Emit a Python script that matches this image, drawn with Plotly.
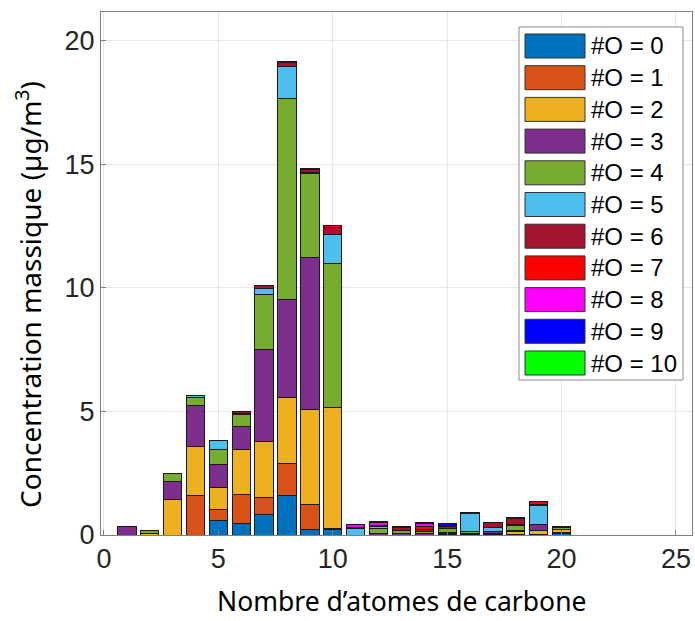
import plotly.graph_objects as go

carbons = list(range(1, 21))
series_names = ["#O = 0", "#O = 1", "#O = 2", "#O = 3", "#O = 4", "#O = 5",
                "#O = 6", "#O = 7", "#O = 8", "#O = 9", "#O = 10"]
colors = ["#0072BD", "#D95319", "#EDB120", "#7E2F8E", "#77AC30", "#4DBEEE",
          "#A2142F", "#FF0000", "#FF00FF", "#0000FF", "#00FF00"]

#            C1    C2    C3    C4    C5    C6    C7    C8    C9    C10   C11   C12   C13   C14   C15   C16   C17   C18   C19   C20
o0  = [0.00, 0.00, 0.00, 0.00, 0.60, 0.46, 0.84, 1.61, 0.23, 0.23, 0.00, 0.00, 0.00, 0.00, 0.03, 0.00, 0.03, 0.04, 0.04, 0.08]
o1  = [0.00, 0.00, 0.00, 1.60, 0.42, 1.19, 0.67, 1.29, 1.01, 0.03, 0.00, 0.00, 0.00, 0.00, 0.04, 0.04, 0.03, 0.00, 0.00, 0.03]
o2  = [0.00, 0.08, 1.44, 2.00, 0.89, 1.83, 2.27, 2.66, 3.85, 4.92, 0.00, 0.00, 0.00, 0.00, 0.00, 0.00, 0.00, 0.10, 0.14, 0.12]
o3  = [0.35, 0.00, 0.73, 1.63, 0.95, 0.93, 3.74, 3.98, 6.14, 0.00, 0.00, 0.08, 0.05, 0.05, 0.05, 0.04, 0.08, 0.05, 0.25, 0.00]
o4  = [0.00, 0.12, 0.33, 0.33, 0.62, 0.48, 2.22, 8.14, 3.40, 5.81, 0.00, 0.17, 0.12, 0.08, 0.15, 0.06, 0.00, 0.20, 0.00, 0.07]
o5  = [0.00, 0.00, 0.00, 0.10, 0.35, 0.03, 0.25, 1.27, 0.03, 1.19, 0.28, 0.09, 0.03, 0.00, 0.00, 0.73, 0.16, 0.05, 0.77, 0.00]
o6  = [0.00, 0.00, 0.00, 0.00, 0.00, 0.06, 0.09, 0.18, 0.12, 0.25, 0.03, 0.04, 0.12, 0.10, 0.08, 0.04, 0.20, 0.22, 0.03, 0.03]
o7  = [0.00, 0.00, 0.00, 0.00, 0.00, 0.00, 0.00, 0.05, 0.04, 0.08, 0.00, 0.00, 0.03, 0.12, 0.00, 0.00, 0.00, 0.04, 0.14, 0.00]
o8  = [0.00, 0.00, 0.00, 0.00, 0.00, 0.00, 0.00, 0.00, 0.00, 0.00, 0.12, 0.12, 0.00, 0.10, 0.00, 0.00, 0.00, 0.00, 0.00, 0.00]
o9  = [0.00, 0.00, 0.00, 0.00, 0.00, 0.00, 0.00, 0.00, 0.00, 0.00, 0.00, 0.04, 0.00, 0.04, 0.12, 0.00, 0.00, 0.00, 0.00, 0.00]
o10 = [0.00] * 20
series = [o0, o1, o2, o3, o4, o5, o6, o7, o8, o9, o10]

x_ticks = [0, 5, 10, 15, 20, 25]
y_ticks = [0, 5, 10, 15, 20]
x_title = "Nombre d’atomes de carbone"
y_title = "Concentration massique (µg/m<sup>3</sup>)"

fig = go.Figure()
for name, col, vals in zip(series_names, colors, series):
    fig.add_trace(go.Bar(
        x=carbons, y=vals, name=name, width=0.8,
        marker=dict(color=col, line=dict(color="#1a1a1a", width=1)),
        showlegend=False,
    ))

# Plot-area geometry in pixels (for custom MATLAB-like legend)
W, H = 695, 621
L, R, T, B = 101, 3, 12, 86
pw, ph = W - L - R, H - T - B

def px(xp):
    return (xp - L) / pw

def py(yp):
    return (H - B - yp) / ph

shapes = []
annotations = []
# legend box
shapes.append(dict(type="rect", xref="paper", yref="paper",
                   x0=px(519), x1=px(683), y0=py(380), y1=py(27),
                   fillcolor="white", line=dict(color="#8c8c8c", width=1), layer="above"))
for i, (name, col) in enumerate(zip(series_names, colors)):
    cy = 46 + 31.7 * i
    shapes.append(dict(type="rect", xref="paper", yref="paper",
                       x0=px(525), x1=px(585), y0=py(cy + 12), y1=py(cy - 12),
                       fillcolor=col, line=dict(color="#333333", width=1), layer="above"))
    annotations.append(dict(x=px(589), y=py(cy), xref="paper", yref="paper",
                            text=name, showarrow=False, xanchor="left", yanchor="middle",
                            font=dict(family="Liberation Sans, Arial", size=24, color="#000000")))

annotations.append(dict(x=px(401), y=py(601), xref="paper", yref="paper",
                        text=x_title, showarrow=False, xanchor="center", yanchor="middle",
                        font=dict(family="Noto Sans", size=26.5, color="#000000")))
annotations.append(dict(x=px(28), y=py(295), xref="paper", yref="paper",
                        text=y_title, showarrow=False, xanchor="center", yanchor="middle",
                        textangle=-90,
                        font=dict(family="Noto Sans", size=28, color="#000000")))

fig.update_layout(
    barmode="stack",
    width=W, height=H,
    margin=dict(l=L, r=R, t=T, b=B, autoexpand=False),
    plot_bgcolor="white", paper_bgcolor="white",
    shapes=shapes, annotations=annotations,
    xaxis=dict(range=[-0.13, 25.7], tickvals=x_ticks, ticktext=[str(v) for v in x_ticks],
               automargin=False,
               showgrid=True, gridcolor="#e6e6e6", gridwidth=1,
               showline=True, linecolor="#7f7f7f", linewidth=1, mirror=True,
               ticks="inside", ticklen=5, tickcolor="#7f7f7f", zeroline=False,
               tickfont=dict(family="Liberation Sans, Arial", size=27, color="#262626")),
    yaxis=dict(range=[0, 21.17], tickvals=y_ticks, ticktext=[str(v) for v in y_ticks],
               automargin=False,
               showgrid=True, gridcolor="#e6e6e6", gridwidth=1,
               showline=True, linecolor="#7f7f7f", linewidth=1, mirror=True,
               ticks="inside", ticklen=5, tickcolor="#7f7f7f", zeroline=False,
               tickfont=dict(family="Liberation Sans, Arial", size=27, color="#262626")),
)

fig.write_html("out.html",
               config={"displayModeBar": False},
               post_script="document.body.style.margin='0';document.documentElement.style.overflow='hidden';")
